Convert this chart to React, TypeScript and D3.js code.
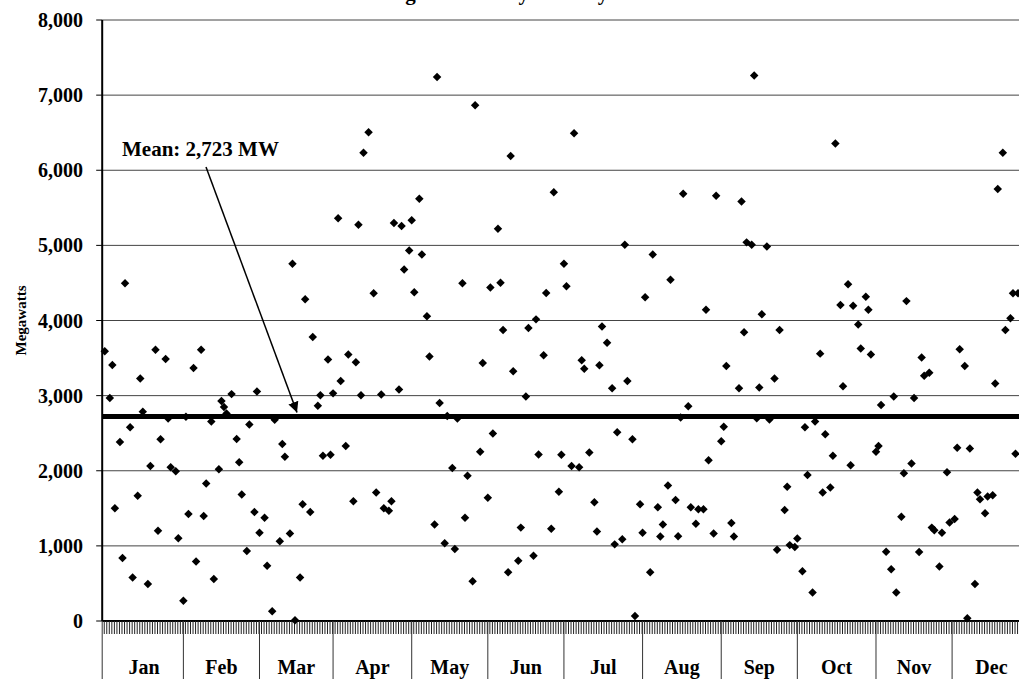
import React, { useEffect, useRef } from 'react';
import * as d3 from 'd3';

// day of year (0-based) and daily megawatts
const days = [
  0, 2, 3, 4, 6, 7, 8, 10, 11, 13, 14, 15, 17, 18, 20, 21, 22, 24, 25, 26, 28, 29,
  31, 32, 33, 35, 36, 38, 39, 40, 42, 43, 45, 46, 47, 48, 50, 52, 53, 54, 56, 57,
  59, 60, 61, 63, 64, 66, 67, 69, 70, 71, 73, 74, 75, 77, 78, 79, 81, 82, 84, 85, 86, 88, 89,
  90, 92, 93, 95, 96, 98, 99, 100, 101, 102, 104, 106, 107, 109, 110, 112, 113, 114, 116, 117, 118,
  120, 121, 122, 124, 125, 127, 128, 130, 131, 132, 134, 135, 137, 138, 139, 141, 142, 143, 145, 146, 148, 149,
  151, 152, 153, 155, 156, 157, 159, 160, 161, 163, 164, 166, 167, 169, 170, 171, 173, 174, 176, 177, 179, 180,
  181, 182, 184, 185, 187, 188, 189, 191, 193, 194, 195, 196, 198, 200, 201, 202, 204, 205, 206, 208, 209, 211,
  212, 213, 215, 216, 218, 219, 220, 222, 223, 225, 226, 227, 228, 230, 231, 233, 234, 236, 237, 238, 240, 241,
  243, 244, 245, 247, 248, 250, 251, 252, 253, 255, 256, 257, 258, 259, 261, 262, 264, 265, 266, 268, 269, 270, 272,
  273, 275, 276, 277, 279, 280, 282, 283, 284, 286, 287, 288, 290, 291, 293, 294, 295, 297, 298, 300, 301, 302,
  304, 305, 306, 308, 310, 311, 312, 314, 315, 316, 318, 319, 321, 322, 323, 325, 326, 327, 329, 330, 332, 333,
  335, 336, 337, 339, 340, 341, 343, 344, 345, 347, 348, 350, 351, 352, 354, 355, 357, 358, 359, 360,
];
const megawatts = [
  3590, 2968, 3408, 1502, 2383, 839, 4496, 2580, 580, 1668, 3227, 2787, 492, 2062, 3610, 1202, 2419, 3486, 2694, 2046, 1994, 1103,
  269, 2720, 1425, 3367, 793, 3610, 1399, 1829, 2657, 559, 2020, 2927, 2849, 2761, 3020, 2424, 2113, 1684, 932, 2616,
  1450, 3056, 1176, 1373, 736, 130, 2678, 1062, 2357, 2186, 1166, 4755, 10, 580, 1554, 4284, 1450, 3781, 2865, 3004, 2201, 3481, 2212,
  3030, 5361, 3196, 2331, 3548, 1595, 3445, 5273, 3004, 6232, 6506, 4362, 1709, 3015, 1502, 1466, 1595, 5299, 3082, 5258, 4678,
  4931, 5335, 4377, 5620, 4880, 4056, 3522, 1285, 7242, 2901, 1036, 2730, 2036, 958, 2694, 4496, 1373, 1932, 528, 6864, 2253, 3434,
  1642, 4439, 2497, 5221, 4501, 3875, 648, 6190, 3326, 803, 1243, 2989, 3901, 870, 4015, 2217, 3538, 4367, 1228, 5708, 1720, 2212,
  4755, 4455, 2062, 6491, 2046, 3471, 3357, 2243, 1580, 1191, 3403, 3921, 3704, 3098, 1020, 2512, 1088, 5009, 3196, 2419, 67, 1554,
  1176, 4310, 648, 4880, 1513, 1124, 1285, 1803, 4543, 1611, 1129, 2709, 5688, 2859, 1513, 1295, 1487, 1487, 4144, 2139, 1166, 5662,
  2393, 2585, 3393, 1305, 1124, 3098, 5584, 3844, 5040, 5009, 7262, 2700, 3108, 4082, 4984, 2683, 3227, 948, 3875, 1476, 1787, 1010, 984,
  1098, 663, 2580, 1943, 378, 2657, 3559, 1709, 2486, 1777, 2201, 6356, 4206, 3124, 4481, 2072, 4196, 3947, 3626, 4315, 4144, 3548,
  2253, 2331, 2875, 922, 689, 2989, 378, 1388, 1968, 4258, 2098, 2968, 917, 3507, 3263, 3305, 1243, 1207, 725, 1176, 1979, 1311,
  1357, 2305, 3616, 3393, 36, 2295, 492, 1709, 1621, 1435, 1658, 1673, 3160, 5750, 6232, 3875, 4030, 4362, 2227, 4362,
];

const months = ['Jan', 'Feb', 'Mar', 'Apr', 'May', 'Jun', 'Jul', 'Aug', 'Sep', 'Oct', 'Nov', 'Dec'];
const monthStarts = [0, 31, 61, 90, 121, 151, 181, 212, 243, 273, 304, 334, 365];
const yTicks = [0, 1000, 2000, 3000, 4000, 5000, 6000, 7000, 8000];
const meanValue = 2723;

const FONT = '"Liberation Serif", "Times New Roman", serif';

const App = () => {
  const svgRef = useRef<SVGSVGElement>(null);

  useEffect(() => {
    const width = 1019;
    const height = 679;
    const svg = d3.select(svgRef.current).attr('width', width).attr('height', height);
    svg.selectAll('*').remove();

    const x = d3.scaleLinear().domain([-1, 366]).range([102.2, 102.2 + 367 * 2.537]);
    const y = d3.scaleLinear().domain([0, 8000]).range([621, 20]);
    const left = x(-1);
    const right = width + 20;

    // title (cut off at the top of the picture)
    svg.append('text')
      .attr('x', 352)
      .attr('y', 0)
      .attr('font-family', FONT)
      .attr('font-weight', 'bold')
      .attr('font-size', '21px')
      .text('Average Total Daily Load by Month');

    // gridlines
    svg.append('g')
      .selectAll('line')
      .data(yTicks.filter((t) => t > 0))
      .enter()
      .append('line')
      .attr('x1', left)
      .attr('x2', right)
      .attr('y1', (d) => y(d))
      .attr('y2', (d) => y(d))
      .attr('stroke', '#444')
      .attr('stroke-width', 1);

    // y axis
    const yAxis = svg.append('g');
    yAxis.append('line')
      .attr('x1', left).attr('x2', left)
      .attr('y1', y(8000)).attr('y2', y(0))
      .attr('stroke', '#000').attr('stroke-width', 2);
    yAxis.selectAll('line.tick')
      .data(yTicks)
      .enter()
      .append('line')
      .attr('class', 'tick')
      .attr('x1', left - 6).attr('x2', left)
      .attr('y1', (d) => y(d)).attr('y2', (d) => y(d))
      .attr('stroke', '#000');
    yAxis.selectAll('text')
      .data(yTicks)
      .enter()
      .append('text')
      .attr('x', 83)
      .attr('y', (d) => y(d) + 7)
      .attr('text-anchor', 'end')
      .attr('font-family', FONT)
      .attr('font-weight', 'bold')
      .attr('font-size', '20px')
      .text((d) => d3.format(',')(d));

    // y label
    svg.append('text')
      .attr('transform', `translate(26, ${y(4000)}) rotate(-90)`)
      .attr('text-anchor', 'middle')
      .attr('font-family', FONT)
      .attr('font-weight', 'bold')
      .attr('font-size', '15px')
      .text('Megawatts');

    // x axis: baseline, daily ticks, month dividers, month labels
    const xAxis = svg.append('g');
    xAxis.append('line')
      .attr('x1', left).attr('x2', right)
      .attr('y1', y(0)).attr('y2', y(0))
      .attr('stroke', '#000').attr('stroke-width', 2);
    xAxis.selectAll('line.day')
      .data(d3.range(0, 366))
      .enter()
      .append('line')
      .attr('class', 'day')
      .attr('x1', (d) => x(d) - 0.5).attr('x2', (d) => x(d) - 0.5)
      .attr('y1', y(0)).attr('y2', y(0) + 13)
      .attr('stroke', '#222').attr('stroke-width', 1);
    xAxis.selectAll('line.month')
      .data(monthStarts)
      .enter()
      .append('line')
      .attr('class', 'month')
      .attr('x1', (d) => (d === 0 ? left : x(d))).attr('x2', (d) => (d === 0 ? left : x(d)))
      .attr('y1', y(0)).attr('y2', height)
      .attr('stroke', '#333').attr('stroke-width', 1);
    xAxis.selectAll('text')
      .data(months)
      .enter()
      .append('text')
      .attr('x', (_, i) => (x(monthStarts[i]) + x(monthStarts[i + 1])) / 2)
      .attr('y', 674)
      .attr('text-anchor', 'middle')
      .attr('font-family', FONT)
      .attr('font-weight', 'bold')
      .attr('font-size', '20px')
      .text((d) => d);

    // mean line
    svg.append('line')
      .attr('x1', left).attr('x2', right)
      .attr('y1', y(meanValue)).attr('y2', y(meanValue))
      .attr('stroke', '#000').attr('stroke-width', 5);

    // points
    const diamond = d3.symbol().type(d3.symbolSquare).size(36)();
    svg.append('g')
      .selectAll('path')
      .data(days.map((d, i) => ({ day: d, value: megawatts[i] })))
      .enter()
      .append('path')
      .attr('d', diamond)
      .attr('transform', (d) => `translate(${x(d.day)}, ${y(d.value)}) rotate(45)`)
      .attr('fill', '#000');

    // annotation
    svg.append('defs')
      .append('marker')
      .attr('id', 'arrow')
      .attr('viewBox', '0 0 10 10')
      .attr('refX', 10)
      .attr('refY', 5)
      .attr('markerWidth', 7)
      .attr('markerHeight', 7)
      .attr('orient', 'auto')
      .append('path')
      .attr('d', 'M0,0 L10,5 L0,10 z')
      .attr('fill', '#000');
    svg.append('line')
      .attr('x1', 206).attr('y1', 167)
      .attr('x2', 297).attr('y2', y(meanValue) - 4)
      .attr('stroke', '#000').attr('stroke-width', 1.5)
      .attr('marker-end', 'url(#arrow)');
    svg.append('text')
      .attr('x', 122)
      .attr('y', 156)
      .attr('font-family', FONT)
      .attr('font-weight', 'bold')
      .attr('font-size', '21px')
      .text(`Mean: ${d3.format(',')(meanValue)} MW`);
  }, []);

  return (
    <div style={{ position: 'absolute', left: 0, top: 0, width: 1019, height: 679, overflow: 'hidden', background: '#fff' }}>
      <svg ref={svgRef} style={{ display: 'block' }}></svg>
    </div>
  );
};

export default App;
